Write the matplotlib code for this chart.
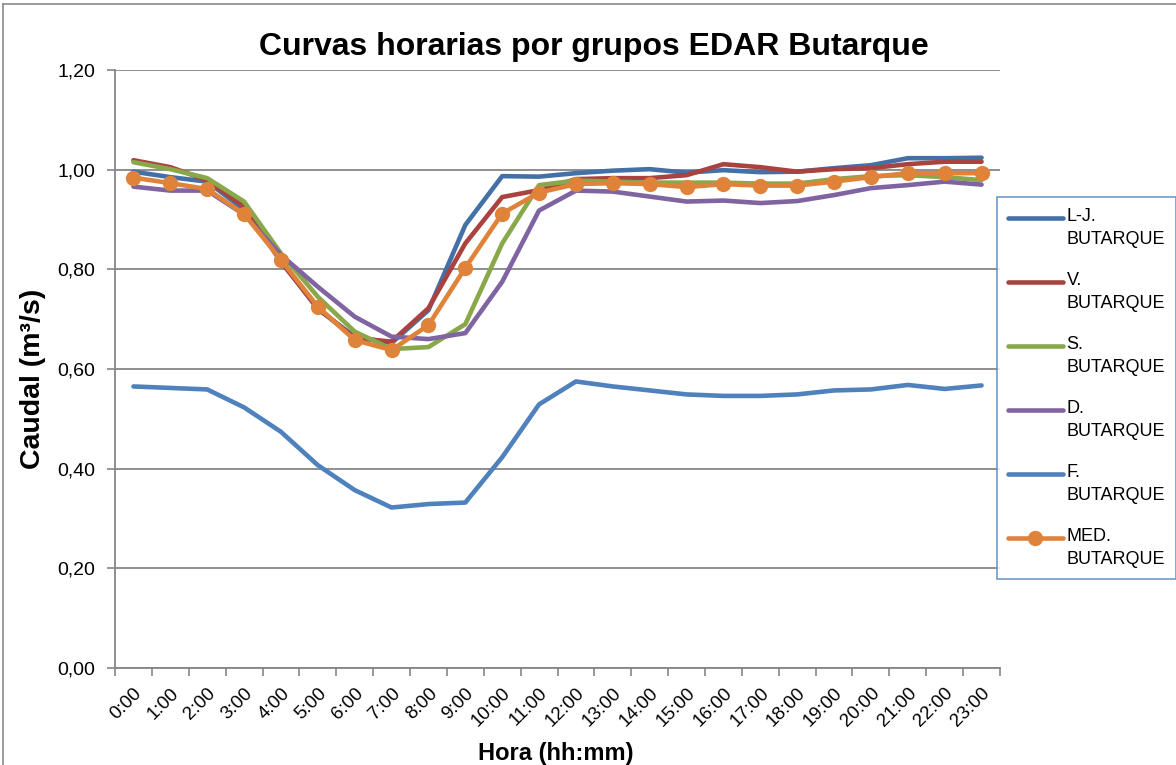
import numpy as np
import matplotlib.pyplot as plt
from matplotlib.lines import Line2D
from matplotlib.ticker import FixedLocator, FuncFormatter, MultipleLocator, NullFormatter

plt.rcParams['font.family'] = ['Liberation Sans', 'DejaVu Sans']

# caudales horarios (m3/s) por grupo de dias
horas = ['%d:00' % h for h in range(24)]
lj = [0.996, 0.985, 0.976, 0.920, 0.817, 0.720, 0.665, 0.652, 0.718, 0.889, 0.987, 0.986,
      0.993, 0.998, 1.001, 0.994, 0.999, 0.995, 0.996, 1.003, 1.009, 1.023, 1.023, 1.024]
vie = [1.019, 1.005, 0.979, 0.926, 0.815, 0.722, 0.662, 0.655, 0.722, 0.852, 0.945, 0.959,
       0.981, 0.983, 0.983, 0.989, 1.011, 1.005, 0.996, 1.001, 1.003, 1.011, 1.016, 1.016]
sab = [1.015, 1.001, 0.983, 0.936, 0.832, 0.745, 0.675, 0.640, 0.644, 0.690, 0.852, 0.969,
       0.978, 0.976, 0.974, 0.974, 0.974, 0.972, 0.972, 0.981, 0.987, 0.989, 0.985, 0.979]
dom = [0.966, 0.958, 0.958, 0.910, 0.829, 0.765, 0.705, 0.665, 0.660, 0.672, 0.775, 0.918,
       0.958, 0.956, 0.946, 0.936, 0.938, 0.933, 0.937, 0.949, 0.963, 0.969, 0.976, 0.970]
fest = [0.565, 0.562, 0.559, 0.523, 0.474, 0.407, 0.357, 0.322, 0.329, 0.332, 0.423, 0.529,
        0.575, 0.565, 0.557, 0.549, 0.546, 0.546, 0.549, 0.557, 0.559, 0.568, 0.560, 0.567]
med = [0.984, 0.973, 0.961, 0.911, 0.819, 0.725, 0.658, 0.638, 0.688, 0.803, 0.912, 0.954,
       0.971, 0.973, 0.971, 0.965, 0.971, 0.968, 0.968, 0.976, 0.985, 0.993, 0.993, 0.993]

series = [('L-J.\nBUTARQUE', lj, '#4470A8'),
          ('V.\nBUTARQUE', vie, '#AA4340'),
          ('S.\nBUTARQUE', sab, '#89A84A'),
          ('D.\nBUTARQUE', dom, '#8064A2'),
          ('F.\nBUTARQUE', fest, '#4F81BD')]

gris = '#868686'

fig = plt.figure(figsize=(11.76, 7.65), dpi=100)
ax = fig.add_axes([115 / 1176, 97 / 765, 885 / 1176, 598 / 765])

x = np.arange(len(horas))
for nombre, vals, col in series:
    ax.plot(x, vals, color=col, lw=3.3, label=nombre,
            solid_capstyle='round', solid_joinstyle='round')
ax.plot(x, med, color='#E0833A', lw=3.3, marker='o', ms=10, label='MED.\nBUTARQUE',
        solid_capstyle='round', solid_joinstyle='round')

# ejes
ax.set_xlim(-0.5, 23.5)
ax.set_ylim(0, 1.2)
ax.xaxis.set_major_locator(FixedLocator(np.arange(-0.5, 24, 1)))
ax.xaxis.set_major_formatter(NullFormatter())
ax.set_xticks(x, minor=True)
ax.set_xticklabels(horas, minor=True, rotation=45, ha='right', va='top',
                   rotation_mode='anchor')
ax.tick_params(axis='x', which='major', length=6, width=1.2, color=gris)
ax.tick_params(axis='x', which='minor', length=0, pad=12, labelsize=13.5)

ax.yaxis.set_major_locator(MultipleLocator(0.2))
ax.yaxis.set_major_formatter(FuncFormatter(lambda v, p: ('%.2f' % v).replace('.', ',')))
ax.tick_params(axis='y', length=6, width=1.2, color=gris, pad=8, labelsize=14)
ax.yaxis.grid(True, color=gris, lw=1.3)
ax.set_axisbelow(True)

for lado in ['top', 'right']:
    ax.spines[lado].set_visible(False)
for lado in ['left', 'bottom']:
    ax.spines[lado].set_color(gris)
    ax.spines[lado].set_linewidth(1.3)

# leyenda a la derecha
leg = ax.legend(loc='upper left', bbox_to_anchor=(997 / 1176, 1 - 197 / 765),
                bbox_transform=fig.transFigure, fancybox=False, fontsize=13,
                handlelength=3.05, handletextpad=0.2, labelspacing=1.3,
                borderpad=0.6, borderaxespad=0)
leg.get_frame().set_edgecolor('#4F81BD')
leg.get_frame().set_linewidth(1.2)
for t in leg.get_texts():
    t.set_linespacing(1.5)
for ln in leg.get_lines():
    ln.set_ydata(np.asarray(ln.get_ydata()) + 7.5)

fig.text(594 / 1176, 1 - 55 / 765, 'Curvas horarias por grupos EDAR Butarque',
         ha='center', va='baseline', fontsize=23, fontweight='bold')
fig.text(33 / 1176, 1 - 379 / 765, 'Caudal (m³/s)', rotation=90,
         ha='center', va='center', fontsize=20.5, fontweight='bold')
fig.text(556 / 1176, 1 - 760 / 765, 'Hora (hh:mm)',
         ha='center', va='baseline', fontsize=17, fontweight='bold')

# marco del grafico
fig.add_artist(Line2D([3 / 1176, 1], [1 - 4 / 765] * 2, transform=fig.transFigure,
                      color='#8a8a8a', lw=1.2))
fig.add_artist(Line2D([3 / 1176] * 2, [0, 1 - 4 / 765], transform=fig.transFigure,
                      color='#8a8a8a', lw=1.2))

fig.savefig('out.png', dpi=100)
